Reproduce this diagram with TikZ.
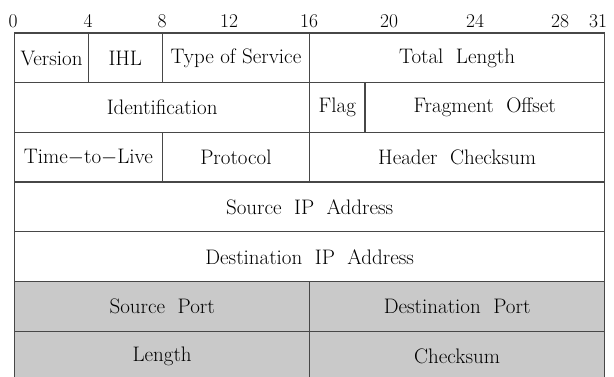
\documentclass[tikz,border=0pt]{standalone}
\usepackage{fontspec}
\usetikzlibrary{positioning}
\newcommand{\fieldfont}{\fontsize{21}{25}\selectfont\spaceskip=12.5pt\relax}
\tikzset{
    field/.style = {rectangle, draw=black!72, line width=1.3pt, inner sep=0pt, anchor=north west,
                    minimum height=49.7pt, font=\fieldfont},
    fieldg/.style = {field, fill=black!21},
    bitnum/.style = {inner sep=0pt, font=\fontsize{19.5}{22}\selectfont},
}

\begin{document}
\begin{tikzpicture}[x=1pt, y=-1pt]
  \useasboundingbox (0,0) rectangle (614,377);

  % bit numbers
  \node[bitnum] (b0)  at ( 13,21) {0};
  \node[bitnum] (b4)  at ( 88,21) {4};
  \node[bitnum] (b8)  at (162,21) {8};
  \node[bitnum] (b12) at (229,21) {12};
  \node[bitnum] (b16) at (309,21) {16};
  \node[bitnum] (b20) at (389,21) {20};
  \node[bitnum] (b24) at (475,21) {24};
  \node[bitnum] (b28) at (560,21) {28};
  \node[bitnum] (b31) at (598,21) {31};

  % IP header
  \node[field, minimum width=73.75pt]  (ver)   at ( 14.0,32.5) {Version};
  \node[field, minimum width=73.75pt]  (ihl)   at ( 87.75,32.5) {IHL};
  \node[field, minimum width=147.5pt]  (tos)   at (161.5,32.5) {\spaceskip=0pt Type of Service};
  \node[field, minimum width=295pt]    (tlen)  at (309.0,32.5) {Total Length};

  \node[field, minimum width=295pt]    (ident) at ( 14.0,82.2) {Identification};
  \node[field, minimum width=55.31pt]  (flag)  at (309.0,82.2) {Flag};
  \node[field, minimum width=239.69pt] (frag)  at (364.31,82.2) {Fragment Offset};

  \node[field, minimum width=147.5pt]  (ttl)   at ( 14.0,131.8) {Time$-$to$-$Live};
  \node[field, minimum width=147.5pt]  (proto) at (161.5,131.8) {Protocol};
  \node[field, minimum width=295pt]    (hcs)   at (309.0,131.8) {Header Checksum};

  \node[field, minimum width=590pt]    (srcip) at ( 14.0,181.5) {Source IP Address};
  \node[field, minimum width=590pt]    (dstip) at ( 14.0,231.2) {Destination IP Address};

  % UDP header
  \node[fieldg, minimum width=295pt]   (sport) at ( 14.0,280.8) {Source Port};
  \node[fieldg, minimum width=295pt]   (dport) at (309.0,280.8) {Destination Port};
  \node[fieldg, minimum width=295pt]   (ulen)  at ( 14.0,330.5) {Length};
  \node[fieldg, minimum width=295pt]   (ucs)   at (309.0,330.5) {Checksum};

\end{tikzpicture}
\end{document}
